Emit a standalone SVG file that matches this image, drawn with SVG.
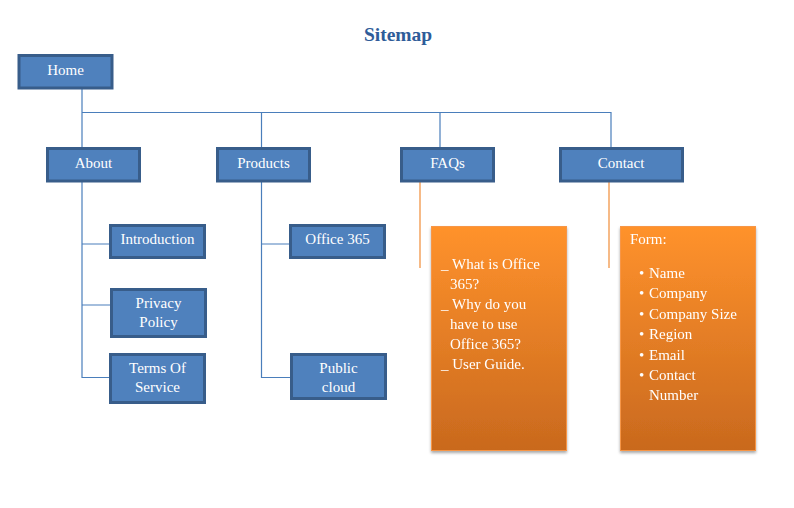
<svg xmlns="http://www.w3.org/2000/svg" width="794" height="508" viewBox="0 0 794 508">
<defs>
<linearGradient id="og" x1="0" y1="0" x2="0" y2="1">
<stop offset="0" stop-color="#FF922C"/>
<stop offset="1" stop-color="#C9691E"/>
</linearGradient>
<filter id="sh" x="-10%" y="-10%" width="120%" height="120%">
<feGaussianBlur in="SourceAlpha" stdDeviation="1.5"/>
<feOffset dx="0" dy="2" result="b"/>
<feComponentTransfer><feFuncA type="linear" slope="0.35"/></feComponentTransfer>
<feMerge><feMergeNode/><feMergeNode in="SourceGraphic"/></feMerge>
</filter>
</defs>
<style>
.n{fill:#4F81BD;stroke:#385D8A;stroke-width:3}
.t{font-family:"Liberation Serif",serif;font-size:15px;fill:#FFFFFF;text-anchor:middle}
.b{fill:url(#og);stroke:#F79646;stroke-width:1}
.bt{font-family:"Liberation Serif",serif;font-size:15px;fill:#FFFFFF}
.c{stroke:#4A7EBB;stroke-width:1.2;fill:none}
.o{stroke:#F4A460;stroke-width:1.5;fill:none}
</style>
<rect width="794" height="508" fill="#FFFFFF"/>
<text x="398" y="41" font-family="Liberation Serif, serif" font-size="19.5" font-weight="bold" fill="#2E5C99" text-anchor="middle">Sitemap</text>
<g id="connectors">
<path class="c" d="M82 89V147M82 112.5H611V147M261.5 112.5V147M440 112.5V147"/>
<path class="c" d="M82 182V377.5H109M82 244H109M82 305H110"/>
<path class="c" d="M261.5 182V377.5H290M261.5 244H289"/>
<path class="o" d="M420 182V268M609 182V268"/>
</g>
<g id="home"><rect class="n" x="19" y="55.5" width="93" height="32.5"/><text class="t" x="65.5" y="74.5">Home</text></g>
<g id="about"><rect class="n" x="47.5" y="148.5" width="92" height="32.5"/><text class="t" x="93.5" y="167.5">About</text></g>
<g id="products"><rect class="n" x="217.5" y="148.5" width="92" height="32.5"/><text class="t" x="263.5" y="167.5">Products</text></g>
<g id="faqs"><rect class="n" x="401.5" y="148.5" width="92" height="32.5"/><text class="t" x="447.5" y="167.5">FAQs</text></g>
<g id="contact"><rect class="n" x="560.5" y="148.5" width="122" height="32.5"/><text class="t" x="621" y="167.5">Contact</text></g>
<g id="introduction"><rect class="n" x="110.5" y="225.5" width="94" height="32"/><text class="t" x="157.5" y="244">Introduction</text></g>
<g id="privacy"><rect class="n" x="111.5" y="289.5" width="94" height="47"/><text class="t" x="158.5" y="308">Privacy</text><text class="t" x="158.5" y="327">Policy</text></g>
<g id="terms"><rect class="n" x="110.5" y="354.5" width="94" height="48"/><text class="t" x="157.5" y="373">Terms Of</text><text class="t" x="157.5" y="392">Service</text></g>
<g id="office365"><rect class="n" x="290.5" y="225.5" width="94" height="32"/><text class="t" x="337.5" y="244">Office 365</text></g>
<g id="publiccloud"><rect class="n" x="291.5" y="354.5" width="94" height="44"/><text class="t" x="338.5" y="373">Public</text><text class="t" x="338.5" y="392">cloud</text></g>
<g id="faqbox" filter="url(#sh)"><rect class="b" x="431.5" y="226.5" width="135" height="224"/>
<text class="bt" x="441" y="269">_ What is Office</text>
<text class="bt" x="450" y="289">365?</text>
<text class="bt" x="441" y="309">_  Why do you</text>
<text class="bt" x="450" y="329">have to use</text>
<text class="bt" x="450" y="349">Office 365?</text>
<text class="bt" x="441" y="369">_  User Guide.</text>
</g>
<g id="contactbox" filter="url(#sh)"><rect class="b" x="620.5" y="226.5" width="135" height="224"/>
<text class="bt" x="630" y="244">Form:</text>
<text class="bt" x="639" y="278">•</text><text class="bt" x="649" y="278">Name</text>
<text class="bt" x="639" y="298">•</text><text class="bt" x="649" y="298">Company</text>
<text class="bt" x="639" y="319">•</text><text class="bt" x="649" y="319">Company Size</text>
<text class="bt" x="639" y="339">•</text><text class="bt" x="649" y="339">Region</text>
<text class="bt" x="639" y="360">•</text><text class="bt" x="649" y="360">Email</text>
<text class="bt" x="639" y="380">•</text><text class="bt" x="649" y="380">Contact</text>
<text class="bt" x="649" y="400">Number</text>
</g>
</svg>
